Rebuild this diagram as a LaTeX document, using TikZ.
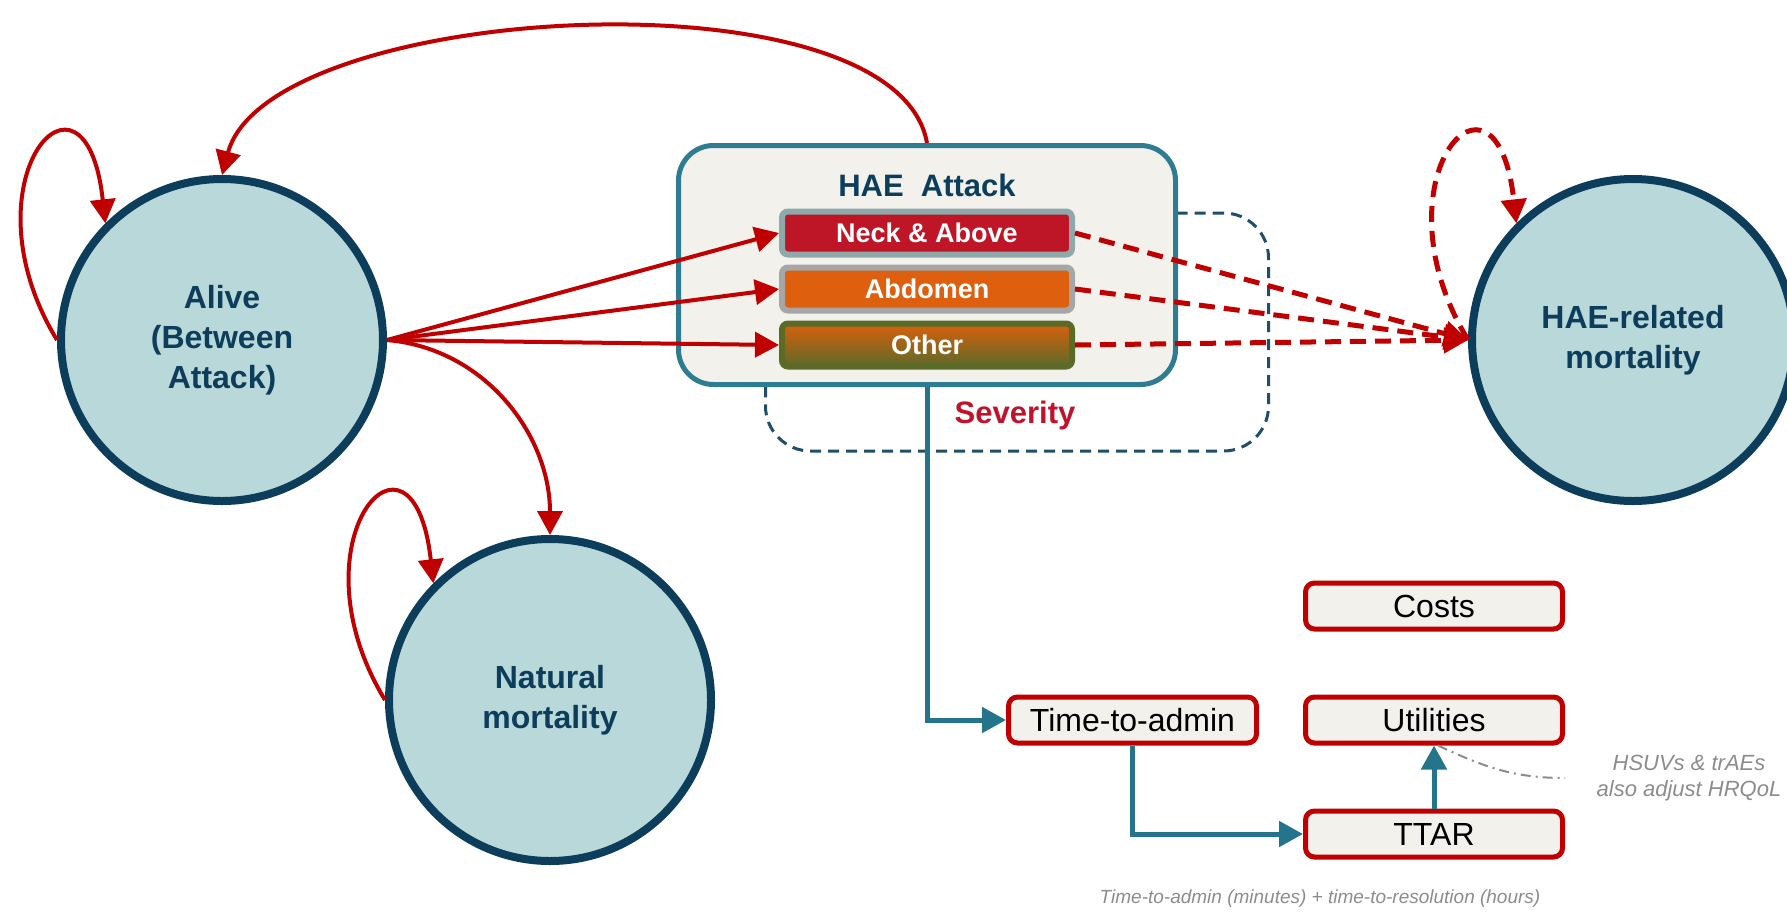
\documentclass[tikz,border=0pt]{standalone}
\usepackage{fontspec}
\setmainfont{Liberation Sans}
\usepackage{xcolor}
\usetikzlibrary{arrows.meta,positioning}

\definecolor{navy}{RGB}{12,62,92}
\definecolor{statefill}{RGB}{185,216,217}
\definecolor{flowred}{RGB}{192,0,0}
\definecolor{flowteal}{RGB}{36,117,140}
\definecolor{boxteal}{RGB}{46,124,145}
\definecolor{paper}{RGB}{242,241,236}
\definecolor{neckred}{RGB}{190,22,38}
\definecolor{neckrim}{RGB}{143,168,170}
\definecolor{abdorange}{RGB}{222,95,14}
\definecolor{abdrim}{RGB}{166,166,166}
\definecolor{othtop}{RGB}{218,96,12}
\definecolor{othmid}{RGB}{206,146,4}
\definecolor{othbot}{RGB}{92,106,40}
\definecolor{sevline}{RGB}{31,78,107}
\definecolor{sevred}{RGB}{192,18,42}
\definecolor{hintgray}{RGB}{140,140,140}

\begin{document}
\begin{tikzpicture}[
    x=1pt, y=1pt,
    font=\fontsize{32}{40}\selectfont,
    node distance=63pt,
    state/.style={
      circle,
      draw=navy,
      line width=8pt,
      fill=statefill,
      minimum size=322pt,
      align=center,
      text=navy,
      font=\fontsize{32}{40}\selectfont\bfseries
    },
    bar/.style={
      rounded corners=6pt,
      line width=6pt,
      minimum width=290pt,
      minimum height=43pt,
      text=white,
      font=\fontsize{27}{32}\selectfont\bfseries
    },
    outcome/.style={
      draw=flowred,
      fill=paper,
      rounded corners=9pt,
      line width=5pt,
      minimum width=257pt,
      minimum height=46pt
    },
    note/.style={
      text=hintgray,
      align=center,
      font=\fontsize{22}{26}\selectfont\itshape
    },
    flow/.style={-{Triangle[length=24pt,width=25pt]}, line width=4pt, draw=flowred},
    deathflow/.style={flow, line width=5pt, dash pattern=on 16pt off 9pt},
    timeflow/.style={-{Triangle[length=24pt,width=25pt]}, line width=5pt, draw=flowteal}
  ]
  \useasboundingbox (0,0) rectangle (1787,-911);

  \node[draw=sevline, line width=3pt, dash pattern=on 11pt off 7pt, rounded corners=45pt,
        minimum width=503pt, minimum height=238pt] (sev) at (1017,-332) {};
  \node[text=sevred, font=\fontsize{31}{36}\selectfont\bfseries] (sevlabel) at (1015,-415) {Severity};

  \node[draw=boxteal, fill=paper, line width=5pt, rounded corners=35pt,
        minimum width=497pt, minimum height=239pt] (attack) at (927,-265) {};
  \node[text=navy, font=\fontsize{31}{36}\selectfont\bfseries] (attacktitle) at (927,-185) {HAE\ \ Attack};
  \node[bar, fill=neckred, draw=neckrim] (neck) at (927,-233) {Neck \& Above};
  \node[bar, fill=abdorange, draw=abdrim, below=7pt of neck] (abdomen) {Abdomen};
  \node[bar, top color=othtop, middle color=othmid, bottom color=othbot, draw=othbot,
        below=7pt of abdomen] (other) {Other};

  \node[state] (alive) at (222,-340) {Alive\\(Between\\Attack)};
  \node[state] (natmort) at (550,-700) {Natural\\mortality};
  \node[state] (haemort) at (1633,-340) {HAE-related\\mortality};

  \node[outcome] (util) at (1434,-720) {Utilities};
  \node[outcome, above=of util] (costs) {Costs};
  \node[outcome, below=of util] (ttar) {TTAR};
  \node[outcome, minimum width=248pt, left=44pt of util] (tta) {Time-to-admin};

  \node[note] (hrqol) at (1689,-778) {HSUVs \& trAEs\\also adjust HRQoL};
  \node[note, font=\fontsize{19}{22}\selectfont\itshape] (ttarnote) at (1320,-899)
    {Time-to-admin (minutes) + time-to-resolution (hours)};
  \coordinate (hintend) at (1565,-778);

  \draw[flow] (attack.north) to[out=100, in=75, looseness=0.65] (alive.north);
  \draw[flow] (alive.west) .. controls +(-97,160) and +(-20,183) .. (alive.135);
  \draw[flow] (natmort.west) .. controls +(-97,160) and +(-20,183) .. (natmort.135);
  \draw[flow] (alive.east) -- (neck.west);
  \draw[flow] (alive.east) -- (abdomen.west);
  \draw[flow] (alive.east) -- (other.west);
  \draw[flow] (alive.east) to[out=-5, in=90] (natmort.north);

  \draw[deathflow] (neck.east) -- (haemort.west);
  \draw[deathflow] (abdomen.east) -- (haemort.west);
  \draw[deathflow] (other.east) -- (haemort.west);
  \draw[deathflow] (haemort.west) .. controls +(-97,160) and +(-20,183) .. (haemort.135);

  \draw[timeflow] (attack.south) |- (tta.west);
  \draw[timeflow] (tta.south) |- (ttar.west);
  \draw[timeflow] (ttar.north) -- (util.south);
  \draw[hintgray, line width=2pt, dash pattern=on 10pt off 5pt on 2pt off 5pt]
    ([xshift=4pt]util.south) to[out=-25, in=180] (hintend);
\end{tikzpicture}
\end{document}
